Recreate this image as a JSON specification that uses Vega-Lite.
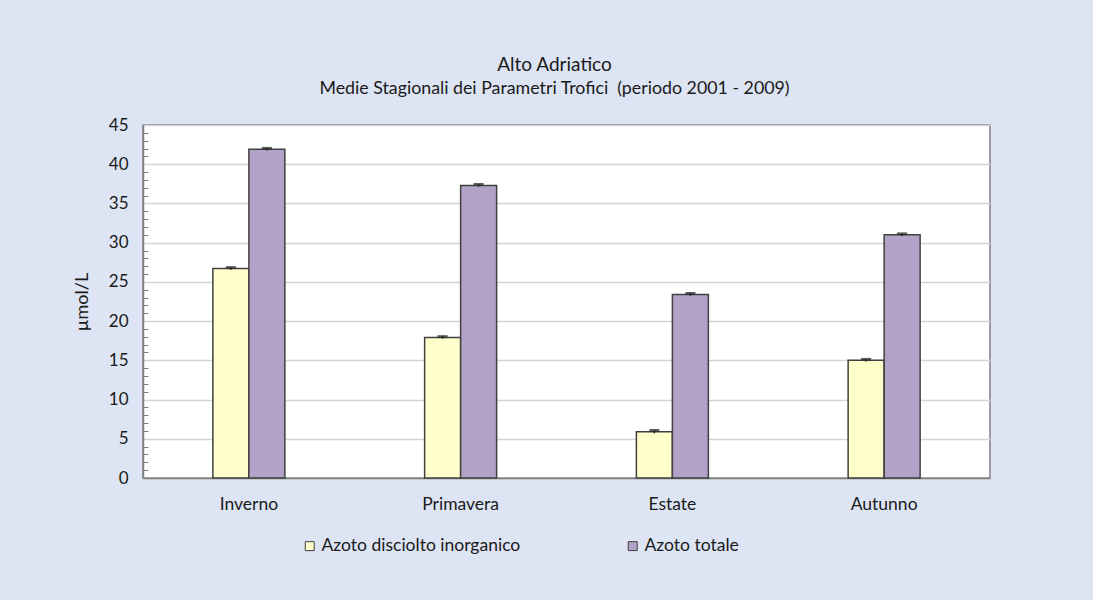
{
  "$schema": "https://vega.github.io/schema/vega-lite/v6.json",
  "width": 847,
  "height": 353,
  "autosize": "none",
  "padding": {"left": 143, "top": 125, "right": 103, "bottom": 122},
  "background": "#dde4f3",
  "title": {
    "text": "Alto Adriatico",
    "subtitle": "Medie Stagionali dei Parametri Trofici\u00a0 (periodo 2001 - 2009)",
    "anchor": "middle",
    "dx": -12,
    "offset": 18,
    "font": "Lato",
    "fontSize": 19,
    "fontWeight": "normal",
    "color": "#1a1a1a",
    "subtitleFont": "Lato",
    "subtitleFontSize": 17.8,
    "subtitleColor": "#1a1a1a",
    "subtitlePadding": 5
  },
  "data": {
    "values": [
      {"stagione": "Inverno", "serie": "Azoto disciolto inorganico", "valore": 26.7, "lo": 26.55, "hi": 26.85},
      {"stagione": "Inverno", "serie": "Azoto totale", "valore": 41.9, "lo": 41.75, "hi": 42.05},
      {"stagione": "Primavera", "serie": "Azoto disciolto inorganico", "valore": 17.9, "lo": 17.75, "hi": 18.05},
      {"stagione": "Primavera", "serie": "Azoto totale", "valore": 37.3, "lo": 37.15, "hi": 37.45},
      {"stagione": "Estate", "serie": "Azoto disciolto inorganico", "valore": 5.9, "lo": 5.7, "hi": 6.1},
      {"stagione": "Estate", "serie": "Azoto totale", "valore": 23.4, "lo": 23.25, "hi": 23.55},
      {"stagione": "Autunno", "serie": "Azoto disciolto inorganico", "valore": 15.0, "lo": 14.85, "hi": 15.15},
      {"stagione": "Autunno", "serie": "Azoto totale", "valore": 31.0, "lo": 30.85, "hi": 31.15}
    ]
  },
  "encoding": {
    "x": {
      "field": "stagione",
      "type": "nominal",
      "sort": ["Inverno", "Primavera", "Estate", "Autunno"],
      "scale": {"paddingInner": 0.66, "paddingOuter": 0.33},
      "axis": {
        "title": null,
        "labelAngle": 0,
        "ticks": false,
        "domainColor": "#808080",
        "domainWidth": 1.5,
        "labelFont": "Lato",
        "labelFontSize": 17.5,
        "labelColor": "#1a1a1a",
        "labelPadding": 17
      }
    },
    "xOffset": {
      "field": "serie",
      "type": "nominal",
      "sort": ["Azoto disciolto inorganico", "Azoto totale"],
      "scale": {"paddingInner": 0, "paddingOuter": 0}
    }
  },
  "layer": [
    {
      "mark": {"type": "bar", "stroke": "#404040", "strokeWidth": 1.5},
      "encoding": {
        "y": {
          "field": "valore",
          "type": "quantitative",
          "scale": {"domain": [0, 45], "nice": false},
          "axis": {
            "title": "µmol/L",
            "values": [0, 5, 10, 15, 20, 25, 30, 35, 40, 45],
            "ticks": false,
            "grid": true,
            "gridColor": "#d4d4d4",
            "gridWidth": 1.5,
            "domainColor": "#808080",
            "domainWidth": 1.5,
            "labelFont": "Lato",
            "labelFontSize": 17,
            "labelColor": "#1a1a1a",
            "labelPadding": 15,
            "titleFont": "Lato",
            "titleFontSize": 18,
            "titleFontWeight": "normal",
            "titleColor": "#1a1a1a",
            "titlePadding": 17
          }
        },
        "fill": {
          "field": "serie",
          "type": "nominal",
          "scale": {
            "domain": ["Azoto disciolto inorganico", "Azoto totale"],
            "range": ["#ffffcc", "#b3a2c7"]
          },
          "legend": {
            "title": null,
            "orient": "none",
            "legendX": 158,
            "legendY": 412,
            "direction": "horizontal",
            "columnPadding": 103,
            "symbolType": "square",
            "symbolSize": 80,
            "symbolStrokeColor": "#404040",
            "symbolStrokeWidth": 1,
            "labelFont": "Lato",
            "labelFontSize": 17.5,
            "labelColor": "#1a1a1a",
            "labelOffset": 3,
            "labelLimit": 400
          }
        }
      }
    },
    {
      "mark": {"type": "rule", "color": "#222222", "strokeWidth": 1.5},
      "encoding": {
        "y": {
          "field": "lo",
          "type": "quantitative",
          "axis": {
            "title": null,
            "orient": "left",
            "values": [1,2,3,4,6,7,8,9,11,12,13,14,16,17,18,19,21,22,23,24,26,27,28,29,31,32,33,34,36,37,38,39,41,42,43,44],
            "labels": false,
            "grid": false,
            "domain": false,
            "ticks": true,
            "tickSize": -5,
            "tickColor": "#808080",
            "tickWidth": 1
          }
        },
        "y2": {"field": "hi"}
      }
    },
    {
      "mark": {"type": "tick", "color": "#1a1a1a", "thickness": 2.5, "size": 10},
      "encoding": {
        "y": {"field": "hi", "type": "quantitative", "axis": null}
      }
    }
  ],
  "resolve": {"axis": {"y": "independent"}},
  "config": {
    "view": {"stroke": "#808080", "strokeWidth": 1.5, "fill": "#ffffff"}
  }
}
